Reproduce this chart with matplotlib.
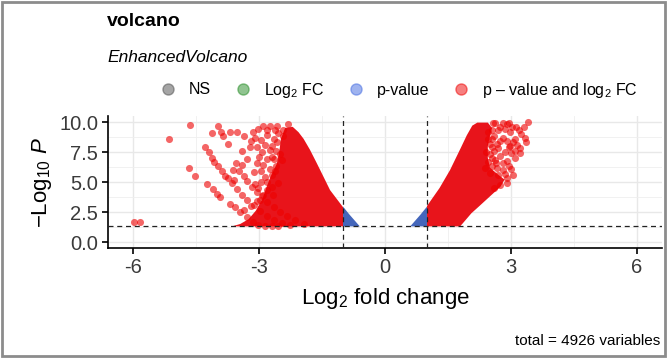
import matplotlib
matplotlib.use("Agg")
import matplotlib.pyplot as plt
from matplotlib.lines import Line2D
from matplotlib.patches import Rectangle

plt.rcParams['font.family'] = ['Liberation Sans', 'DejaVu Sans']
plt.rcParams['mathtext.fontset'] = 'custom'
plt.rcParams['mathtext.rm'] = 'Liberation Sans'
plt.rcParams['mathtext.it'] = 'Liberation Sans:italic'

# sparse red points
left_x = [-5.99, -5.83, -5.14, -4.64, -4.12, -3.97, -3.91, -3.85, -3.73, -3.69, -3.53, -3.36,
          -3.21, -3.02, -2.90, -2.74, -2.58, -2.30, -2.42, -2.55, -2.94, -2.74, -3.06, -3.13,
          -2.90, -2.70, -2.50, -2.58, -2.42, -3.02, -2.86, -2.62, -2.46, -2.82, -2.55, -2.97,
          -4.68, -4.52, -4.25, -4.09, -4.01, -3.93, -3.69, -3.57, -3.45, -3.30, -3.14, -3.02,
          -2.85, -2.70, -2.55,
          -4.30, -4.20, -4.12, -4.07, -3.97, -3.89, -3.81, -3.75, -3.65, -3.53, -3.41, -3.29,
          -3.13, -2.97, -2.81, -2.65, -2.46, -2.26,
          -3.61, -3.49, -3.37, -3.29, -3.17, -3.06, -2.94, -2.81, -2.65, -2.50, -2.34, -2.14,
          -1.94,
          -2.62, -2.80, -3.15, -2.65, -2.80, -2.95, -3.10, -2.70, -2.85, -3.05, -2.60, -2.65,
          -2.80, -3.00, -2.60, -2.75, -2.95, -2.70, -2.80, -2.95, -3.10, -2.70, -2.90, -3.05,
          -3.20, -3.35, -2.68, -3.40, -3.30, -3.55, -3.60, -3.20, -3.40]
left_y = [1.70, 1.70, 8.60, 9.75, 9.05, 9.70, 9.15, 8.80, 8.15, 9.15, 9.15, 8.80,
          7.95, 9.40, 9.65, 9.70, 9.70, 9.85, 9.30, 9.05, 7.50, 7.65, 6.60, 5.80,
          6.40, 7.10, 7.30, 8.30, 8.80, 4.50, 5.40, 5.90, 6.80, 4.30, 4.90, 3.50,
          6.20, 5.50, 4.87, 4.45, 4.00, 3.76, 3.20, 2.93, 2.50, 2.10, 1.70, 1.45,
          1.36, 1.33, 1.32,
          7.90, 7.50, 7.00, 6.70, 6.30, 5.90, 5.50, 5.30, 4.90, 4.40, 3.90, 3.50,
          3.05, 2.60, 2.20, 1.85, 1.60, 1.40,
          6.00, 5.90, 5.50, 5.10, 4.60, 4.20, 3.80, 3.35, 2.90, 2.50, 2.15, 1.80,
          1.50,
          9.35, 9.30, 9.20, 8.60, 8.90, 8.50, 8.70, 8.00, 8.10, 7.90, 7.60, 6.90,
          6.90, 7.10, 6.30, 6.10, 5.90, 5.60, 5.00, 5.00, 4.80, 4.60, 3.90, 3.40,
          3.00, 2.70, 3.90, 6.40, 6.90, 6.60, 5.20, 8.40, 7.60]

right_x = [3.41, 2.62, 2.74, 2.90, 3.02, 3.13, 2.98, 2.82, 3.10, 2.54, 2.66, 2.98,
           3.21, 3.37, 3.33, 2.50, 2.74, 2.90, 3.10, 3.21, 2.66, 2.82, 2.50, 2.90,
           2.74, 2.45, 2.58, 2.80, 2.95, 2.55, 2.62, 2.38, 2.60, 2.95, 3.05,
           2.55, 2.70, 2.85, 3.20, 3.25, 2.60, 2.75, 2.90, 3.15, 2.50, 2.60, 2.70,
           2.85, 3.00, 2.55, 2.65, 2.80, 3.00, 2.70, 2.55, 2.45, 2.90, 2.85, 3.05,
           2.95, 3.10, 3.30, 2.40, 2.45]
right_y = [10.0, 9.90, 9.55, 9.80, 9.55, 9.60, 9.15, 8.70, 8.55, 8.55, 8.15, 8.00,
           7.85, 8.30, 8.70, 7.30, 7.15, 6.75, 7.00, 7.45, 6.15, 6.00, 5.75, 5.35,
           4.75, 9.20, 9.90, 9.90, 9.95, 7.90, 6.80, 6.20, 4.50, 6.30, 8.30,
           9.30, 9.30, 9.40, 9.30, 9.00, 8.80, 8.40, 8.40, 8.10, 8.20, 7.60, 7.80,
           7.50, 7.40, 7.00, 6.60, 6.60, 6.10, 5.60, 6.30, 6.70, 4.90, 5.70, 5.60,
           7.90, 7.60, 9.60, 7.50, 8.60]

# outlines of the solid (overplotted) parts
left_core_x = [-0.99, -1.00, -1.31, -1.47, -1.63, -1.79, -1.94, -2.06, -2.20, -2.38, -2.48,
               -2.52, -2.58, -2.72, -2.82, -2.92, -3.08, -3.25, -3.45, -3.65]
left_core_y = [1.30, 2.90, 4.33, 5.47, 6.60, 7.70, 8.60, 9.15, 9.60, 9.50, 8.60,
               7.50, 6.50, 5.50, 4.60, 3.60, 2.60, 1.90, 1.50, 1.30]
right_core_x = [1.00, 1.00, 1.30, 1.55, 1.80, 1.95, 2.08, 2.20, 2.45, 2.55, 2.50, 2.45,
                2.45, 2.50, 2.70, 2.85, 2.75, 2.50, 2.25, 2.06, 1.79]
right_core_y = [1.30, 3.00, 4.50, 6.00, 7.80, 8.90, 9.70, 9.95, 9.95, 9.50, 8.80, 8.00,
                7.00, 6.20, 5.60, 5.20, 4.60, 3.80, 3.00, 2.40, 1.30]
left_blue_x = [-1.00, -1.00, -0.85, -0.60]
left_blue_y = [1.30, 2.95, 2.30, 1.30]
right_blue_x = [0.60, 1.00, 1.00, 0.85]
right_blue_y = [1.30, 1.30, 2.95, 2.30]

RED = '#e8141b'
BLUE = '#4466bb'

fig = plt.figure(figsize=(6.67, 3.58), dpi=100)
ax = fig.add_axes([108/667, 1-248/358, (662-108)/667, (248-116)/358])

ax.fill(left_core_x, left_core_y, color=RED, lw=0, zorder=3)
ax.fill(right_core_x, right_core_y, color=RED, lw=0, zorder=3)
ax.fill(left_blue_x, left_blue_y, color=BLUE, lw=0, zorder=3)
ax.fill(right_blue_x, right_blue_y, color=BLUE, lw=0, zorder=3)
ax.scatter(left_x, left_y, s=26, color='#ee0000', alpha=0.6, lw=0, zorder=4)
ax.scatter(right_x, right_y, s=26, color='#ee0000', alpha=0.6, lw=0, zorder=4)

ax.axhline(1.30, color='#222222', ls=(0, (4, 3)), lw=0.9, zorder=5)
ax.axvline(-1, color='#222222', ls=(0, (4, 3)), lw=0.9, zorder=5)
ax.axvline(1, color='#222222', ls=(0, (4, 3)), lw=0.9, zorder=5)

ax.set_xlim(-6.6, 6.6)
ax.set_ylim(-0.5, 10.5)
ax.set_xticks([-6, -3, 0, 3, 6])
ax.set_xticklabels(['-6', '-3', '0', '3', '6'])
ax.set_yticks([0, 2.5, 5, 7.5, 10])
ax.set_yticklabels(['0.0', '2.5', '5.0', '7.5', '10.0'])
ax.set_xticks([-4.5, -1.5, 1.5, 4.5], minor=True)
ax.set_yticks([1.25, 3.75, 6.25, 8.75], minor=True)
ax.grid(which='major', color='#e8e8e8', lw=1.0, zorder=0)
ax.grid(which='minor', color='#efefef', lw=0.6, zorder=0)
ax.tick_params(which='major', length=4, width=1.2, color='black', labelsize=14.5,
               labelcolor='#3a3a3a', pad=3)
ax.tick_params(which='minor', length=0)
for s in ['top', 'right']:
    ax.spines[s].set_visible(False)
for s in ['left', 'bottom']:
    ax.spines[s].set_linewidth(1.2)
ax.set_axisbelow(True)

ax.set_xlabel(r'Log$_2$ fold change', fontsize=16, labelpad=7)
ax.set_ylabel(r'$-$Log$_{10}$ $\mathit{P}$', fontsize=16, labelpad=4)

fig.text(107/667, 1-22/358, 'volcano', fontsize=14, fontweight='bold', va='center')
fig.text(107/667, 1-57/358, 'EnhancedVolcano', fontsize=12.5, style='italic', va='center')
fig.text(660/667, 1-341/358, 'total = 4926 variables', fontsize=11, ha='right', va='center')

handles = [Line2D([], [], marker='o', ls='', color=c, alpha=0.5, markersize=8)
           for c in ['#4d4d4d', '#228b22', '#4169e1', '#ee0000']]
labels = ['NS', r'Log$_2$ FC', 'p-value', r'p – value and log$_2$ FC']
fig.legend(handles, labels, loc='center', bbox_to_anchor=(395/667, 1-90/358), ncol=4,
           frameon=False, fontsize=11.5, handletextpad=0.3, columnspacing=1.0,
           borderaxespad=0)

fig.patches.append(Rectangle((0.003, 0.005), 0.994, 0.99, transform=fig.transFigure,
                             fill=False, edgecolor='#8c8c8c', lw=2))

fig.savefig('out.png', dpi=100)
